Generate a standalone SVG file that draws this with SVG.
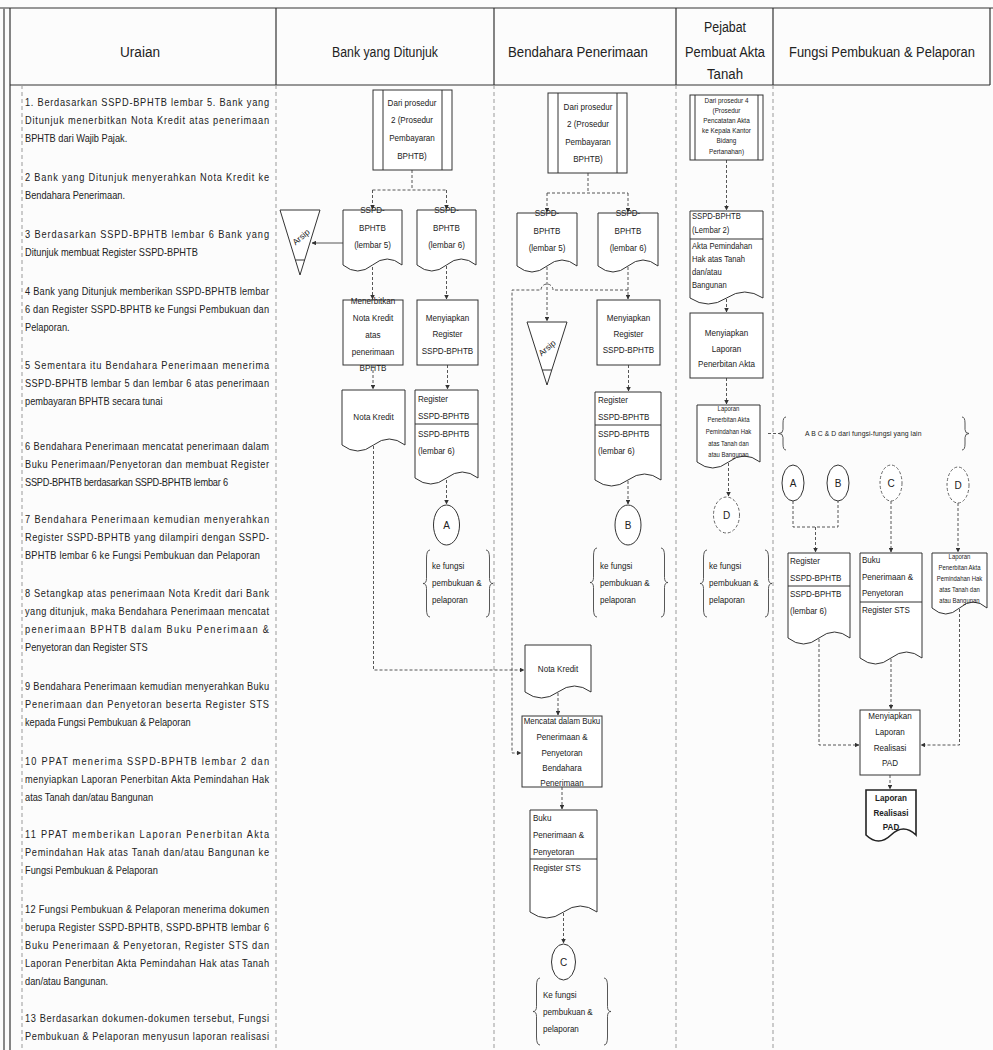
<svg xmlns="http://www.w3.org/2000/svg" width="993" height="1050" viewBox="0 0 993 1050">
<defs>
<style>
.t{font-family:"Liberation Sans","Arimo",Arial,sans-serif;fill:#222}
.u{font-size:10.5px}
.h{font-size:14px;text-anchor:middle}
.s{font-size:9.5px}
.m{text-anchor:middle}
.xs{font-size:7.5px}
.tn{font-size:7px}
.sh{fill:#fff;stroke:#333;stroke-width:1}
.ln{fill:none;stroke:#333;stroke-width:1}
.cn{fill:none;stroke:#444;stroke-width:0.9;stroke-dasharray:3 2}
.cs{fill:none;stroke:#444;stroke-width:0.9}
.dv{stroke:#9a9a9a;stroke-width:1;stroke-dasharray:4 3}
.fr{stroke:#333;stroke-width:1.2}
.br{fill:none;stroke:#444;stroke-width:0.9}
.dc{fill:#fff;stroke:#666;stroke-width:1;stroke-dasharray:3 2}
</style>
<marker id="ah" viewBox="0 0 10 10" refX="9" refY="5" markerWidth="5" markerHeight="5" orient="auto"><path d="M0,0 L10,5 L0,10 z" fill="#333"/></marker>
</defs>
<rect width="993" height="1050" fill="#fcfcfc"/>

<g id="frame">
<line class="fr" x1="0" y1="8" x2="993" y2="8"/>
<line x1="4" y1="8" x2="4" y2="1050" stroke="#888" stroke-width="2"/>
<line class="fr" x1="10" y1="8" x2="10" y2="1050"/>
<line class="fr" x1="10" y1="85" x2="990" y2="85"/>
<line class="fr" x1="990" y1="8" x2="990" y2="85"/>
<line class="fr" x1="276" y1="8" x2="276" y2="85"/>
<line class="fr" x1="494" y1="8" x2="494" y2="85"/>
<line class="fr" x1="676" y1="8" x2="676" y2="85"/>
<line class="fr" x1="773" y1="8" x2="773" y2="85"/>
<line class="dv" x1="22" y1="85" x2="22" y2="1050"/>
<line class="dv" x1="276" y1="85" x2="276" y2="1050"/>
<line class="dv" x1="494" y1="85" x2="494" y2="1050"/>
<line class="dv" x1="676" y1="85" x2="676" y2="1050"/>
<line class="dv" x1="773" y1="85" x2="773" y2="1050"/>
</g>

<g id="header">
<text class="t h" x="140" y="57" textLength="40" lengthAdjust="spacingAndGlyphs">Uraian</text>
<text class="t h" x="385" y="57" textLength="106" lengthAdjust="spacingAndGlyphs">Bank yang Ditunjuk</text>
<text class="t h" x="578" y="57" textLength="140" lengthAdjust="spacingAndGlyphs">Bendahara Penerimaan</text>
<text class="t h" x="725" y="32" textLength="42" lengthAdjust="spacingAndGlyphs">Pejabat</text>
<text class="t h" x="725" y="57" textLength="80" lengthAdjust="spacingAndGlyphs">Pembuat Akta</text>
<text class="t h" x="725" y="79" textLength="36" lengthAdjust="spacingAndGlyphs">Tanah</text>
<text class="t h" x="882" y="57" textLength="186" lengthAdjust="spacingAndGlyphs">Fungsi Pembukuan &amp; Pelaporan</text>
</g>

<g id="uraian" class="t u" transform="matrix(0.88 0 0 1 25 0)">
<text x="0" y="106" textLength="277.3" lengthAdjust="spacing">1. Berdasarkan SSPD-BPHTB lembar 5. Bank yang</text>
<text x="0" y="124" textLength="277.3" lengthAdjust="spacing">Ditunjuk menerbitkan Nota Kredit atas penerimaan</text>
<text x="0" y="142">BPHTB dari Wajib Pajak.</text>
<text x="0" y="181" textLength="277.3" lengthAdjust="spacing">2 Bank yang Ditunjuk menyerahkan Nota Kredit ke</text>
<text x="0" y="199">Bendahara Penerimaan.</text>
<text x="0" y="238" textLength="277.3" lengthAdjust="spacing">3 Berdasarkan SSPD-BPHTB lembar 6 Bank yang</text>
<text x="0" y="256">Ditunjuk membuat Register SSPD-BPHTB</text>
<text x="0" y="295" textLength="277.3" lengthAdjust="spacing">4 Bank yang Ditunjuk memberikan SSPD-BPHTB lembar</text>
<text x="0" y="313" textLength="277.3" lengthAdjust="spacing">6 dan Register SSPD-BPHTB ke Fungsi Pembukuan dan</text>
<text x="0" y="331">Pelaporan.</text>
<text x="0" y="369" textLength="277.3" lengthAdjust="spacing">5 Sementara itu Bendahara Penerimaan menerima</text>
<text x="0" y="387" textLength="277.3" lengthAdjust="spacing">SSPD-BPHTB lembar 5 dan lembar 6 atas penerimaan</text>
<text x="0" y="405">pembayaran BPHTB secara tunai</text>
<text x="0" y="450" textLength="277.3" lengthAdjust="spacing">6 Bendahara Penerimaan mencatat penerimaan dalam</text>
<text x="0" y="468" textLength="277.3" lengthAdjust="spacing">Buku Penerimaan/Penyetoran dan membuat Register</text>
<text x="0" y="486" textLength="230.7" lengthAdjust="spacing">SSPD-BPHTB berdasarkan SSPD-BPHTB lembar 6</text>
<text x="0" y="523" textLength="277.3" lengthAdjust="spacing">7 Bendahara Penerimaan kemudian menyerahkan</text>
<text x="0" y="541" textLength="277.3" lengthAdjust="spacing">Register SSPD-BPHTB yang dilampiri dengan SSPD-</text>
<text x="0" y="559" textLength="267" lengthAdjust="spacing">BPHTB lembar 6 ke Fungsi Pembukuan dan Pelaporan</text>
<text x="0" y="597" textLength="277.3" lengthAdjust="spacing">8 Setangkap atas penerimaan Nota Kredit dari Bank</text>
<text x="0" y="615" textLength="277.3" lengthAdjust="spacing">yang ditunjuk, maka Bendahara Penerimaan mencatat</text>
<text x="0" y="633" textLength="277.3" lengthAdjust="spacing">penerimaan BPHTB dalam Buku Penerimaan &amp;</text>
<text x="0" y="651">Penyetoran dan Register STS</text>
<text x="0" y="690" textLength="277.3" lengthAdjust="spacing">9 Bendahara Penerimaan kemudian menyerahkan Buku</text>
<text x="0" y="708" textLength="277.3" lengthAdjust="spacing">Penerimaan dan Penyetoran beserta Register STS</text>
<text x="0" y="726">kepada Fungsi Pembukuan &amp; Pelaporan</text>
<text x="0" y="765" textLength="277.3" lengthAdjust="spacing">10 PPAT menerima SSPD-BPHTB lembar 2 dan</text>
<text x="0" y="783" textLength="277.3" lengthAdjust="spacing">menyiapkan Laporan Penerbitan Akta Pemindahan Hak</text>
<text x="0" y="801">atas Tanah dan/atau Bangunan</text>
<text x="0" y="838" textLength="277.3" lengthAdjust="spacing">11 PPAT memberikan Laporan Penerbitan Akta</text>
<text x="0" y="856" textLength="277.3" lengthAdjust="spacing">Pemindahan Hak atas Tanah dan/atau Bangunan ke</text>
<text x="0" y="874">Fungsi Pembukuan &amp; Pelaporan</text>
<text x="0" y="913" textLength="277.3" lengthAdjust="spacing">12 Fungsi Pembukuan &amp; Pelaporan menerima dokumen</text>
<text x="0" y="931" textLength="277.3" lengthAdjust="spacing">berupa Register SSPD-BPHTB, SSPD-BPHTB lembar 6</text>
<text x="0" y="949" textLength="277.3" lengthAdjust="spacing">Buku Penerimaan &amp; Penyetoran, Register STS dan</text>
<text x="0" y="967" textLength="277.3" lengthAdjust="spacing">Laporan Penerbitan Akta Pemindahan Hak atas Tanah</text>
<text x="0" y="985">dan/atau Bangunan.</text>
<text x="0" y="1022" textLength="277.3" lengthAdjust="spacing">13 Berdasarkan dokumen-dokumen tersebut, Fungsi</text>
<text x="0" y="1040" textLength="277.3" lengthAdjust="spacing">Pembukuan &amp; Pelaporan menyusun laporan realisasi</text>
</g>

<g id="connectors">
<path class="cn" d="M412,170 V190 M372.5,190 H446.5"/>
<path class="cn" d="M372.5,190 V209" marker-end="url(#ah)"/>
<path class="cn" d="M446.5,190 V209" marker-end="url(#ah)"/>
<path class="cs" d="M343,243 H312" marker-end="url(#ah)"/>
<path class="cn" d="M372.5,267 V299" marker-end="url(#ah)"/>
<path class="cn" d="M446.5,266 V299" marker-end="url(#ah)"/>
<path class="cn" d="M373,365 V389" marker-end="url(#ah)"/>
<path class="cn" d="M447.5,365 V389" marker-end="url(#ah)"/>
<path class="cn" d="M446.5,480 V504" marker-end="url(#ah)"/>
<path class="cn" d="M373.5,446 V670 H524" marker-end="url(#ah)"/>
<path class="cn" d="M588,173 V193 M547,193 H628"/>
<path class="cn" d="M547,193 V212" marker-end="url(#ah)"/>
<path class="cn" d="M628,193 V212" marker-end="url(#ah)"/>
<path class="cn" d="M628,267 V299" marker-end="url(#ah)"/>
<path class="cn" d="M628,290 H553 A6,6 0 0 0 541,290 H512 V753 H521" marker-end="url(#ah)"/>
<path class="cn" d="M547,267 V321" marker-end="url(#ah)"/>
<path class="cn" d="M628.5,365 V391" marker-end="url(#ah)"/>
<path class="cn" d="M628,481 V504" marker-end="url(#ah)"/>
<path class="cn" d="M558,693 V715" marker-end="url(#ah)"/>
<path class="cn" d="M562,787 V809" marker-end="url(#ah)"/>
<path class="cn" d="M563.5,913 V943" marker-end="url(#ah)"/>
<path class="cn" d="M726.5,160 V210" marker-end="url(#ah)"/>
<path class="cn" d="M726.5,299 V312" marker-end="url(#ah)"/>
<path class="cn" d="M726.5,378 V404" marker-end="url(#ah)"/>
<path class="cn" d="M728.5,463 V496" marker-end="url(#ah)"/>
<path class="cn" d="M768,433.5 H779"/>
<path class="cn" d="M793,501 V527 H838 V501"/>
<path class="cn" d="M815.5,527 V552" marker-end="url(#ah)"/>
<path class="cn" d="M891,501 V552" marker-end="url(#ah)"/>
<path class="cn" d="M958,503 V552" marker-end="url(#ah)"/>
<path class="cn" d="M819,639 V745 H859" marker-end="url(#ah)"/>
<path class="cn" d="M891,659 V709" marker-end="url(#ah)"/>
<path class="cn" d="M959.5,609 V745 H921" marker-end="url(#ah)"/>
<path class="cn" d="M890,775 V789" marker-end="url(#ah)"/>
</g>

<g id="bank-prosedur">
<rect class="sh" x="373" y="90" width="79" height="80"/>
<line class="ln" x1="383" y1="90" x2="383" y2="170"/>
<line class="ln" x1="442" y1="90" x2="442" y2="170"/>
<g class="t s m" transform="matrix(0.85 0 0 1 61.8 0)">
<text x="412" y="106">Dari prosedur</text>
<text x="412" y="123">2 (Prosedur</text>
<text x="412" y="141">Pembayaran</text>
<text x="412" y="159">BPHTB)</text>
</g>
</g>
<g id="bank-sspd5">
<path class="sh" d="M343,210 H402 V265 Q387.25,253 372.5,265 Q357.75,277 343,265 Z"/>
<g class="t s m" transform="matrix(0.85 0 0 1 55.875 0)">
<text x="372.5" y="213">SSPD-</text>
<text x="372.5" y="231">BPHTB</text>
<text x="372.5" y="248">(lembar 5)</text>
</g>
</g>
<g id="bank-sspd6">
<path class="sh" d="M417,210 H476 V265 Q461.25,253 446.5,265 Q431.75,277 417,265 Z"/>
<g class="t s m" transform="matrix(0.85 0 0 1 66.975 0)">
<text x="446.5" y="213">SSPD-</text>
<text x="446.5" y="231">BPHTB</text>
<text x="446.5" y="248">(lembar 6)</text>
</g>
</g>
<g id="bank-arsip">
<path class="sh" d="M280,210 H320 L300,275 Z"/>
<line class="ln" x1="295.4" y1="260" x2="304.6" y2="260"/>
<text class="t m" font-size="8.5" x="301" y="240" transform="rotate(-40 301 237)">Arsip</text>
</g>
<g id="bank-menerbitkan">
<rect class="sh" x="343" y="300" width="60" height="65"/>
<g class="t s m" transform="matrix(0.85 0 0 1 55.95 0)">
<text x="373" y="304">Menerbitkan</text>
<text x="373" y="321">Nota Kredit</text>
<text x="373" y="338">atas</text>
<text x="373" y="355">penerimaan</text>
<text x="373" y="371">BPHTB</text>
</g>
</g>
<g id="bank-menyiapkan">
<rect class="sh" x="417" y="300" width="61" height="65"/>
<g class="t s m" transform="matrix(0.85 0 0 1 67.125 0)">
<text x="447.5" y="321">Menyiapkan</text>
<text x="447.5" y="337">Register</text>
<text x="447.5" y="354">SSPD-BPHTB</text>
</g>
</g>
<g id="bank-notakredit">
<path class="sh" d="M342,390 H405 V445 Q389.25,433 373.5,445 Q357.75,457 342,445 Z"/>
<g class="t s m" transform="matrix(0.85 0 0 1 56.025 0)">
<text x="373.5" y="420">Nota Kredit</text>
</g>
</g>
<g id="bank-register">
<path class="sh" d="M415,390 H478 V478 Q462.25,466 446.5,478 Q430.75,490 415,478 Z"/>
<line class="ln" x1="415" y1="424" x2="478" y2="424"/>
<g class="t s" transform="matrix(0.85 0 0 1 62.7 0)">
<text x="418" y="402">Register</text>
<text x="418" y="419">SSPD-BPHTB</text>
<text x="418" y="437">SSPD-BPHTB</text>
<text x="418" y="454">(lembar 6)</text>
</g>
</g>
<g id="bank-A">
<ellipse class="sh" cx="446.5" cy="525" rx="13" ry="20"/>
<text class="t m" x="446.5" y="529" font-size="10">A</text>
</g>
<g id="bank-ke-fungsi">
<path class="br" d="M430,550 Q426.5,550 426.5,558 L426.5,578.5 Q426.5,583.5 423,583.5 Q426.5,583.5 426.5,588.5 L426.5,609 Q426.5,617 430,617"/>
<path class="br" d="M486,550 Q489.5,550 489.5,558 L489.5,578.5 Q489.5,583.5 493,583.5 Q489.5,583.5 489.5,588.5 L489.5,609 Q489.5,617 486,617"/>
<g class="t s" transform="matrix(0.85 0 0 1 64.8 0)">
<text x="432" y="569">ke fungsi</text>
<text x="432" y="586">pembukuan &amp;</text>
<text x="432" y="603">pelaporan</text>
</g>
</g>

<g id="bend-prosedur">
<rect class="sh" x="548" y="93" width="79" height="80"/>
<line class="ln" x1="558" y1="93" x2="558" y2="173"/>
<line class="ln" x1="617" y1="93" x2="617" y2="173"/>
<g class="t s m" transform="matrix(0.85 0 0 1 88.2 0)">
<text x="588" y="110">Dari prosedur</text>
<text x="588" y="127">2 (Prosedur</text>
<text x="588" y="145">Pembayaran</text>
<text x="588" y="162">BPHTB)</text>
</g>
</g>
<g id="bend-sspd5">
<path class="sh" d="M517,213 H577 V266 Q562,254 547,266 Q532,278 517,266 Z"/>
<g class="t s m" transform="matrix(0.85 0 0 1 82.05 0)">
<text x="547" y="216">SSPD-</text>
<text x="547" y="234">BPHTB</text>
<text x="547" y="251">(lembar 5)</text>
</g>
</g>
<g id="bend-sspd6">
<path class="sh" d="M598,213 H658 V266 Q643,254 628,266 Q613,278 598,266 Z"/>
<g class="t s m" transform="matrix(0.85 0 0 1 94.2 0)">
<text x="628" y="216">SSPD-</text>
<text x="628" y="234">BPHTB</text>
<text x="628" y="251">(lembar 6)</text>
</g>
</g>
<g id="bend-arsip">
<path class="sh" d="M527,322 H567 L547,385 Z"/>
<line class="ln" x1="542.2" y1="370" x2="551.8" y2="370"/>
<text class="t m" font-size="8.5" x="547" y="351" transform="rotate(-40 547 348)">Arsip</text>
</g>
<g id="bend-menyiapkan">
<rect class="sh" x="597" y="300" width="63" height="65"/>
<g class="t s m" transform="matrix(0.85 0 0 1 94.275 0)">
<text x="628.5" y="321">Menyiapkan</text>
<text x="628.5" y="337">Register</text>
<text x="628.5" y="353">SSPD-BPHTB</text>
</g>
</g>
<g id="bend-register">
<path class="sh" d="M595,392 H661 V480 Q644.5,468 628,480 Q611.5,492 595,480 Z"/>
<line class="ln" x1="595" y1="425" x2="661" y2="425"/>
<g class="t s" transform="matrix(0.85 0 0 1 89.7 0)">
<text x="598" y="403">Register</text>
<text x="598" y="420">SSPD-BPHTB</text>
<text x="598" y="437">SSPD-BPHTB</text>
<text x="598" y="454">(lembar 6)</text>
</g>
</g>
<g id="bend-B">
<ellipse class="sh" cx="628" cy="525" rx="13" ry="20"/>
<text class="t m" x="628" y="529" font-size="10">B</text>
</g>
<g id="bend-ke-fungsi-B">
<path class="br" d="M597,548 Q593.5,548 593.5,556 L593.5,577.5 Q593.5,582.5 590,582.5 Q593.5,582.5 593.5,587.5 L593.5,609 Q593.5,617 597,617"/>
<path class="br" d="M661,548 Q664.5,548 664.5,556 L664.5,577.5 Q664.5,582.5 668,582.5 Q664.5,582.5 664.5,587.5 L664.5,609 Q664.5,617 661,617"/>
<g class="t s" transform="matrix(0.85 0 0 1 90 0)">
<text x="600" y="569">ke fungsi</text>
<text x="600" y="586">pembukuan &amp;</text>
<text x="600" y="603">pelaporan</text>
</g>
</g>
<g id="bend-notakredit">
<path class="sh" d="M525,645 H591 V692 Q574.5,680 558,692 Q541.5,704 525,692 Z"/>
<g class="t s m" transform="matrix(0.85 0 0 1 83.7 0)">
<text x="558" y="672">Nota Kredit</text>
</g>
</g>
<g id="bend-mencatat">
<rect class="sh" x="522" y="716" width="80" height="71"/>
<g class="t s m" transform="matrix(0.85 0 0 1 84.3 0)">
<text x="562" y="724" textLength="90" lengthAdjust="spacingAndGlyphs">Mencatat dalam Buku</text>
<text x="562" y="740">Penerimaan &amp;</text>
<text x="562" y="756">Penyetoran</text>
<text x="562" y="771">Bendahara</text>
<text x="562" y="786">Penerimaan</text>
</g>
</g>
<g id="bend-buku">
<path class="sh" d="M530,810 H597 V912 Q580.25,900 563.5,912 Q546.75,924 530,912 Z"/>
<line class="ln" x1="530" y1="859" x2="597" y2="859"/>
<g class="t s" transform="matrix(0.85 0 0 1 79.95 0)">
<text x="533" y="821">Buku</text>
<text x="533" y="838">Penerimaan &amp;</text>
<text x="533" y="855">Penyetoran</text>
<text x="533" y="871">Register STS</text>
</g>
</g>
<g id="bend-C">
<ellipse class="sh" cx="563.5" cy="962" rx="12" ry="18"/>
<text class="t m" x="563.5" y="966" font-size="10">C</text>
</g>
<g id="bend-ke-fungsi-C">
<path class="br" d="M540,978 Q536.5,978 536.5,986 L536.5,1006.5 Q536.5,1011.5 533,1011.5 Q536.5,1011.5 536.5,1016.5 L536.5,1037 Q536.5,1045 540,1045"/>
<path class="br" d="M604,978 Q607.5,978 607.5,986 L607.5,1006.5 Q607.5,1011.5 611,1011.5 Q607.5,1011.5 607.5,1016.5 L607.5,1037 Q607.5,1045 604,1045"/>
<g class="t s" transform="matrix(0.85 0 0 1 81.45 0)">
<text x="543" y="998">Ke fungsi</text>
<text x="543" y="1015">pembukuan &amp;</text>
<text x="543" y="1032">pelaporan</text>
</g>
</g>

<g id="ppat-prosedur">
<rect class="sh" x="690" y="95" width="73" height="65"/>
<line class="ln" x1="695" y1="95" x2="695" y2="160"/>
<line class="ln" x1="758" y1="95" x2="758" y2="160"/>
<g class="t xs m" transform="matrix(0.85 0 0 1 108.975 0)">
<text x="726.5" y="103">Dari prosedur 4</text>
<text x="726.5" y="113">(Prosedur</text>
<text x="726.5" y="123">Pencatatan Akta</text>
<text x="726.5" y="133">ke Kepala Kantor</text>
<text x="726.5" y="143">Bidang</text>
<text x="726.5" y="154">Pertanahan)</text>
</g>
</g>
<g id="ppat-sspd2">
<path class="sh" d="M690,211 H763 V298 Q744.75,286 726.5,298 Q708.25,310 690,298 Z"/>
<line class="ln" x1="690" y1="239" x2="763" y2="239"/>
<g class="t" font-size="9" transform="matrix(0.85 0 0 1 103.8 0)">
<text x="692" y="219">SSPD-BPHTB</text>
<text x="692" y="233">(Lembar 2)</text>
<text x="692" y="249">Akta Pemindahan</text>
<text x="692" y="262">Hak atas Tanah</text>
<text x="692" y="275">dan/atau</text>
<text x="692" y="288">Bangunan</text>
</g>
</g>
<g id="ppat-menyiapkan">
<rect class="sh" x="690" y="313" width="73" height="65"/>
<g class="t s m" transform="matrix(0.85 0 0 1 108.975 0)">
<text x="726.5" y="336">Menyiapkan</text>
<text x="726.5" y="352">Laporan</text>
<text x="726.5" y="367">Penerbitan Akta</text>
</g>
</g>
<g id="ppat-laporan">
<path class="sh" d="M697,405 H760 V462 Q744.25,450 728.5,462 Q712.75,474 697,462 Z"/>
<g class="t tn m" transform="matrix(0.85 0 0 1 109.275 0)">
<text x="728.5" y="411">Laporan</text>
<text x="728.5" y="422">Penerbitan Akta</text>
<text x="728.5" y="434">Pemindahan Hak</text>
<text x="728.5" y="446">atas Tanah dan</text>
<text x="728.5" y="457">atau Bangunan</text>
</g>
</g>
<g id="ppat-D">
<ellipse class="dc" cx="726.5" cy="515" rx="13" ry="18"/>
<text class="t m" x="726.5" y="519" font-size="10">D</text>
</g>
<g id="ppat-ke-fungsi">
<path class="br" d="M707,550 Q703.5,550 703.5,558 L703.5,578.5 Q703.5,583.5 700,583.5 Q703.5,583.5 703.5,588.5 L703.5,609 Q703.5,617 707,617"/>
<path class="br" d="M765,550 Q768.5,550 768.5,558 L768.5,578.5 Q768.5,583.5 772,583.5 Q768.5,583.5 768.5,588.5 L768.5,609 Q768.5,617 765,617"/>
<g class="t s" transform="matrix(0.85 0 0 1 106.35 0)">
<text x="709" y="569">ke fungsi</text>
<text x="709" y="586">pembukuan &amp;</text>
<text x="709" y="603">pelaporan</text>
</g>
</g>

<g id="fungsi-dari">
<path class="br" d="M786,417 Q783,417 783,423 L783,429.5 Q783,433.5 779,433.5 Q783,433.5 783,437.5 L783,444 Q783,450 786,450"/>
<path class="br" d="M962,417 Q965,417 965,423 L965,429.5 Q965,433.5 969,433.5 Q965,433.5 965,437.5 L965,444 Q965,450 962,450"/>
<g class="t" font-size="8" transform="matrix(0.85 0 0 1 120.75 0)">
<text x="805" y="436" textLength="137" lengthAdjust="spacing">A B C &amp; D dari fungsi-fungsi yang lain</text>
</g>
</g>
<g id="fungsi-A">
<ellipse class="sh" cx="793" cy="483" rx="11" ry="18"/>
<text class="t m" x="793" y="487" font-size="10">A</text>
</g>
<g id="fungsi-B">
<ellipse class="sh" cx="838" cy="483" rx="11" ry="18"/>
<text class="t m" x="838" y="487" font-size="10">B</text>
</g>
<g id="fungsi-C">
<ellipse class="dc" cx="891" cy="483" rx="11" ry="18"/>
<text class="t m" x="891" y="487" font-size="10">C</text>
</g>
<g id="fungsi-D">
<ellipse class="dc" cx="958" cy="485" rx="11" ry="18"/>
<text class="t m" x="958" y="489" font-size="10">D</text>
</g>
<g id="fungsi-register">
<path class="sh" d="M788,553 H850 V638 Q834.5,626 819,638 Q803.5,650 788,638 Z"/>
<line class="ln" x1="788" y1="586" x2="850" y2="586"/>
<g class="t s" transform="matrix(0.85 0 0 1 118.5 0)">
<text x="790" y="564">Register</text>
<text x="790" y="581">SSPD-BPHTB</text>
<text x="790" y="597">SSPD-BPHTB</text>
<text x="790" y="614">(lembar 6)</text>
</g>
</g>
<g id="fungsi-buku">
<path class="sh" d="M860,553 H922 V658 Q906.5,646 891,658 Q875.5,670 860,658 Z"/>
<line class="ln" x1="860" y1="602" x2="922" y2="602"/>
<g class="t s" transform="matrix(0.85 0 0 1 129.3 0)">
<text x="862" y="563">Buku</text>
<text x="862" y="580">Penerimaan &amp;</text>
<text x="862" y="596">Penyetoran</text>
<text x="862" y="613">Register STS</text>
</g>
</g>
<g id="fungsi-laporan">
<path class="sh" d="M932,553 H987 V608 Q973.25,596 959.5,608 Q945.75,620 932,608 Z"/>
<g class="t tn m" transform="matrix(0.85 0 0 1 143.925 0)">
<text x="959.5" y="559">Laporan</text>
<text x="959.5" y="570">Penerbitan Akta</text>
<text x="959.5" y="581">Pemindahan Hak</text>
<text x="959.5" y="592">atas Tanah dan</text>
<text x="959.5" y="603">atau Bangunan</text>
</g>
</g>
<g id="fungsi-menyiapkan">
<rect class="sh" x="860" y="710" width="60" height="65"/>
<g class="t s m" transform="matrix(0.85 0 0 1 133.5 0)">
<text x="890" y="719">Menyiapkan</text>
<text x="890" y="735">Laporan</text>
<text x="890" y="751">Realisasi</text>
<text x="890" y="766">PAD</text>
</g>
</g>
<g id="fungsi-laporan-pad">
<path d="M866,790 H916 V835 Q903.5,823 891,835 Q878.5,847 866,835 Z" fill="#fff" stroke="#222" stroke-width="1.6"/>
<g class="t m" font-size="9.5" font-weight="bold" transform="matrix(0.85 0 0 1 133.65 0)">
<text x="891" y="801">Laporan</text>
<text x="891" y="816">Realisasi</text>
<text x="891" y="830">PAD</text>
</g>
</g>
</svg>
